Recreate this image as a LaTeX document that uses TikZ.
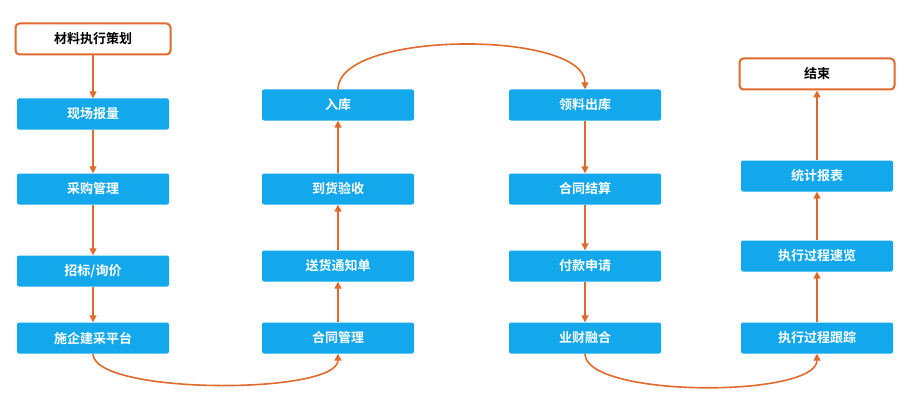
\documentclass[tikz,border=0pt]{standalone}
\usepackage{fontspec}
\setmainfont{Noto Sans CJK SC}[BoldFont={* Bold}]
\usetikzlibrary{arrows.meta}
\definecolor{bx}{HTML}{13A7EB}
\definecolor{og}{HTML}{E06A2E}
\tikzset{x=1pt,y=-1pt,
 bb/.style={fill=bx,draw=none,rounded corners=2pt,minimum width=152pt,minimum height=31pt,text=white,font=\bfseries\fontsize{13}{15}\selectfont,inner sep=0},
 ob/.style={fill=white,draw=og,line width=2pt,rounded corners=4pt,minimum width=155pt,minimum height=31pt,text=black,font=\bfseries\fontsize{13}{15}\selectfont,inner sep=0},
 ar/.style={draw=og,line width=1.6pt,-{Triangle[length=7pt,width=7pt]}}}
\begin{document}
\begin{tikzpicture}
\useasboundingbox[fill=white] (0,0) rectangle (911,412);
\node[ob] (a0) at (93,39) {材料执行策划};
\node[bb] (a1) at (93,114) {现场报量};
\node[bb] (a2) at (93,189) {采购管理};
\node[bb] (a3) at (93,271) {招标/询价};
\node[bb] (a4) at (93,338) {施企建采平台};
\node[bb] (b4) at (338,338) {合同管理};
\node[bb] (b3) at (338,266) {送货通知单};
\node[bb] (b2) at (338,189) {到货验收};
\node[bb] (b1) at (338,105) {入库};
\node[bb] (c1) at (585,105) {领料出库};
\node[bb] (c2) at (585,189) {合同结算};
\node[bb] (c3) at (585,266) {付款申请};
\node[bb] (c4) at (585,338) {业财融合};
\node[bb] (d4) at (817,338) {执行过程跟踪};
\node[bb] (d3) at (817,256) {执行过程速览};
\node[bb] (d2) at (817,176) {统计报表};
\node[ob] (d1) at (817,74) {结束};
\draw[ar] (a0) -- (a1);
\draw[ar] (a1) -- (a2);
\draw[ar] (a2) -- (a3);
\draw[ar] (a3) -- (a4);
\draw[ar] (a4.south) .. controls (93,395) and (338,395) .. (b4.south);
\draw[ar] (b4) -- (b3);
\draw[ar] (b3) -- (b2);
\draw[ar] (b2) -- (b1);
\draw[ar] (b1.north) .. controls (338,30) and (585,30) .. (c1.north);
\draw[ar] (c1) -- (c2);
\draw[ar] (c2) -- (c3);
\draw[ar] (c3) -- (c4);
\draw[ar] (c4.south) .. controls (585,398) and (817,398) .. (d4.south);
\draw[ar] (d4) -- (d3);
\draw[ar] (d3) -- (d2);
\draw[ar] (d2) -- (d1);
\end{tikzpicture}
\end{document}
